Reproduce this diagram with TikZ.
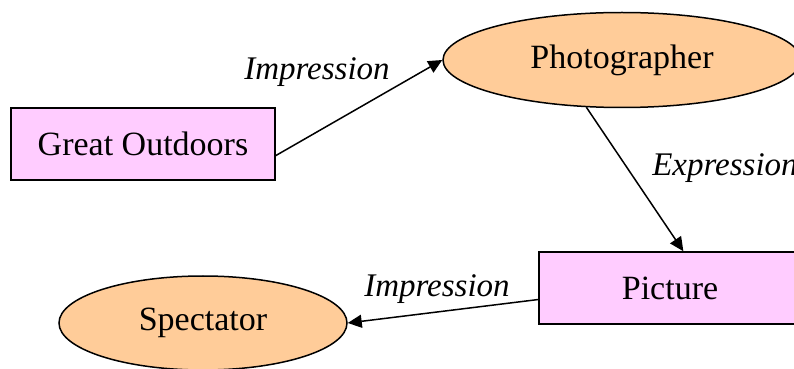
\documentclass[tikz,border=0pt]{standalone}
\usepackage{fontspec}
\setmainfont{Liberation Serif}
\usetikzlibrary{shapes.geometric,arrows.meta}
\definecolor{boxpink}{HTML}{FFCCFF}
\definecolor{ovalorange}{HTML}{FFCC99}
\begin{document}
\begin{tikzpicture}[x=0.5pt,y=-0.5pt,
  every node/.style={font=\fontsize{17}{20}\selectfont, inner sep=0pt},
  boxnode/.style={rectangle, draw=black, fill=boxpink, line width=0.75pt,
    minimum width=132pt, minimum height=36pt},
  ovalnode/.style={ellipse, draw=black, fill=ovalorange, line width=0.75pt},
  edge label/.style={font=\fontsize{16.5}{20}\selectfont\itshape},
  link/.style={line width=0.75pt, -{Triangle[length=7pt,width=6.5pt]}}]
  \useasboundingbox (0,0) rectangle (794,369);
  \clip (0,0) rectangle (794,369);

  \node[boxnode] (go) at (143,144) {Great Outdoors};
  \node[ovalnode, minimum width=179pt, minimum height=47.5pt] (ph) at (622,60) {Photographer};
  \node[boxnode, minimum width=131pt] (pic) at (670,288) {Picture};
  \node[ovalnode, minimum width=144pt, minimum height=47pt] (sp) at (203,323) {Spectator};

  \draw[link] (go.-5) -- (ph.west);
  \draw[link] (ph.233) -- (pic.70);
  \draw[link] (pic.185) -- (sp.east);

  \node[edge label] (l1) at (317,72) {Impression};
  \node[edge label] (l2) at (725,168) {Expression};
  \node[edge label] (l3) at (437,289) {Impression};
\end{tikzpicture}
\end{document}
